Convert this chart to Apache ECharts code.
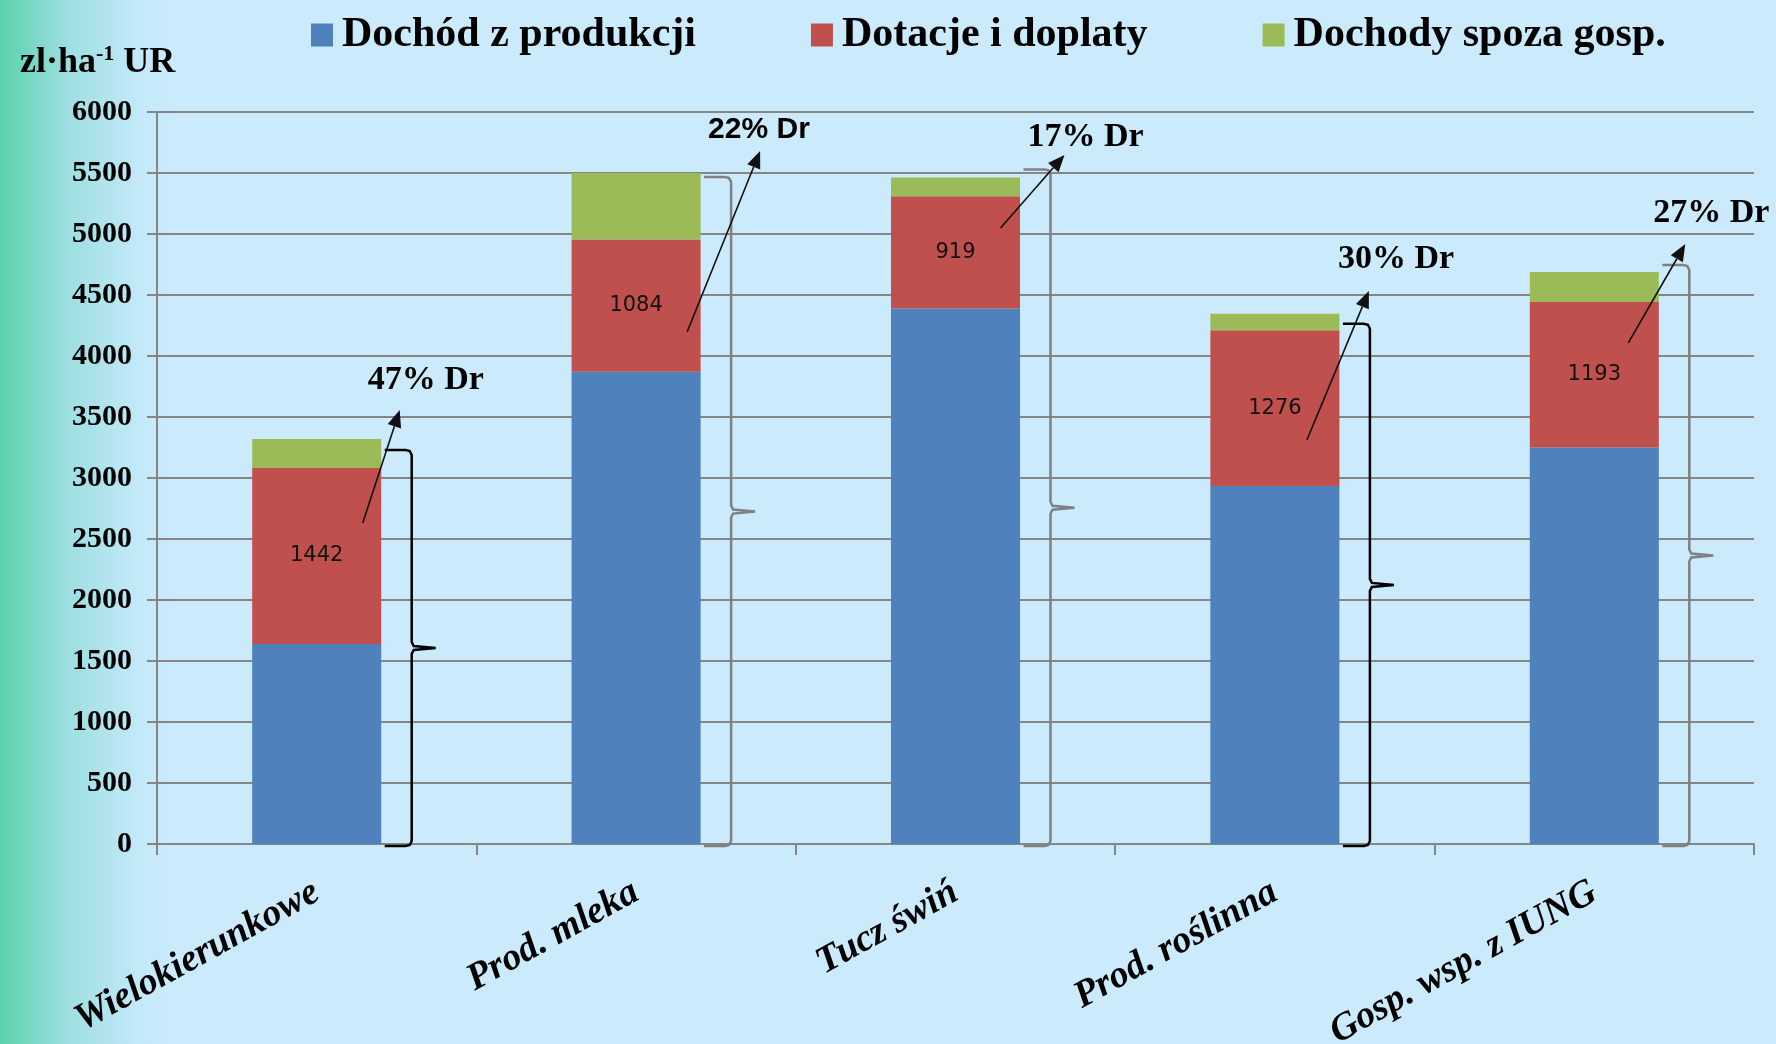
<!DOCTYPE html>
<html>
<head>
<meta charset="utf-8">
<script src="https://cdn.jsdelivr.net/npm/echarts@6/dist/echarts.min.js"></script>
<style>
  html, body { margin: 0; padding: 0; }
  body {
    width: 1776px; height: 1044px;
    background: linear-gradient(to right, #5ad1ad 0px, #9fdfe2 70px, #c3e9f8 140px, #cbebfd 175px, #cbebfd 100%);
  }
  #chart { width: 1776px; height: 1044px; }
</style>
</head>
<body>
<div id="chart"></div>
<script>
// categories and series values (zl/ha UR)
const categories = ['Wielokierunkowe', 'Prod. mleka', 'Tucz świń', 'Prod. roślinna', 'Gosp. wsp. z IUNG'];
const dochodProdukcji = [1640, 3870, 4390, 2935, 3250];
const dotacje = [1442, 1084, 919, 1276, 1193];
const spozaGosp = [238, 545, 155, 135, 245];
const drShare = ['47% Dr', '22% Dr', '17% Dr', '30% Dr', '27% Dr'];
const seriesNames = ['Dochód z produkcji', 'Dotacje i doplaty', 'Dochody spoza gosp.'];

const totals = categories.map((c, i) => dochodProdukcji[i] + dotacje[i] + spozaGosp[i]);

// annotation layout: [px offset from bar centre, value on y axis]
const arrowFrom = [[46, 2631], [51, 4197], [45, 5049], [32, 3311], [34, 4107]];
const arrowTo = [[83, 3557], [124, 5680], [109, 5648], [94, 4533], [91, 4918]];
const drLabelPos = [[51, 3803], [72, 5857], [72, 5791], [63, 4795], [59, 5168]];
const braceTopShift = [11, 4, -8, 10, -7];
const braceColor = ['#000', '#808080', '#808080', '#000', '#808080'];

const serif = '"Liberation Serif", "Times New Roman", serif';
const gray = '#868686';

const chart = echarts.init(document.getElementById('chart'));

chart.setOption({
  backgroundColor: 'transparent',
  animation: false,
  color: ['#4f81bd', '#c0504d', '#9bbb59'],
  title: {
    text: '{m|zl·ha}{sup|-1}{m| UR}',
    left: 15,
    top: 38,
    textStyle: {
      rich: {
        m: { fontFamily: serif, fontWeight: 'bold', fontSize: 36, color: '#000', lineHeight: 38, verticalAlign: 'bottom' },
        sup: { fontFamily: serif, fontWeight: 'bold', fontSize: 22, color: '#000', lineHeight: 22, verticalAlign: 'top' }
      }
    }
  },
  legend: {
    left: 306,
    top: 9,
    icon: 'rect',
    itemWidth: 22,
    itemHeight: 23,
    itemGap: 115,
    data: seriesNames,
    textStyle: {
      fontFamily: serif, fontWeight: 'bold', fontSize: 42, color: '#000',
      padding: [0, 0, 0, 4]
    }
  },
  grid: { left: 157, right: 22, top: 112, bottom: 200, containLabel: false, outerBoundsMode: 'none' },
  xAxis: {
    type: 'category',
    data: categories,
    axisLine: { lineStyle: { color: gray, width: 2 } },
    axisTick: { show: true, length: 11, lineStyle: { color: gray, width: 2 } },
    axisLabel: {
      interval: 0,
      rotate: 29,
      margin: 46,
      fontFamily: serif, fontWeight: 'bold', fontStyle: 'italic', fontSize: 38, color: '#000'
    }
  },
  yAxis: {
    type: 'value',
    min: 0,
    max: 6000,
    interval: 500,
    axisLine: { show: true, lineStyle: { color: gray, width: 2 } },
    axisTick: { show: true, length: 10, lineStyle: { color: gray, width: 2 } },
    splitLine: { lineStyle: { color: gray, width: 2 } },
    axisLabel: {
      margin: 25, fontFamily: serif, fontWeight: 'bold', fontSize: 30, color: '#000',
      formatter: v => String(v)
    }
  },
  series: [
    { name: seriesNames[0], type: 'bar', stack: 'a', barCategoryGap: '59.6%', data: dochodProdukcji },
    {
      name: seriesNames[1], type: 'bar', stack: 'a', data: dotacje,
      label: { show: true, position: 'inside', fontFamily: '"DejaVu Sans", Verdana, sans-serif', fontSize: 21, color: '#111' }
    },
    { name: seriesNames[2], type: 'bar', stack: 'a', data: spozaGosp }
  ]
});

// braces, arrows and "% Dr" notes, positioned through the axes
const toPx = (i, dx, v) => {
  const p = chart.convertToPixel({ xAxisIndex: 0, yAxisIndex: 0 }, [i, v]);
  return [p[0] + dx, p[1]];
};

const graphics = [];
categories.forEach((c, i) => {
  // brace
  const x = toPx(i, 95, 0)[0];
  const top = toPx(i, 0, totals[i])[1] + braceTopShift[i];
  const bot = toPx(i, 0, 0)[1] + 2;
  const mid = (top + bot) / 2;
  const x0 = x - 27;
  graphics.push({
    type: 'polyline',
    silent: true,
    z: 100,
    shape: {
      points: [[x0, top], [x - 6, top], [x - 2, top + 1], [x, top + 5], [x, mid - 6], [x + 2, mid - 2],
        [x + 24, mid], [x + 2, mid + 2], [x, mid + 6], [x, bot - 5], [x - 2, bot - 1], [x - 6, bot], [x0, bot]]
    },
    style: { stroke: braceColor[i], lineWidth: 2.5, fill: null }
  });

  // arrow
  const s = toPx(i, arrowFrom[i][0], arrowFrom[i][1]);
  const t = toPx(i, arrowTo[i][0], arrowTo[i][1]);
  const ang = Math.atan2(t[1] - s[1], t[0] - s[0]);
  const L = 17, W = 7;
  const bx = t[0] - L * Math.cos(ang), by = t[1] - L * Math.sin(ang);
  const px = -Math.sin(ang) * W, py = Math.cos(ang) * W;
  graphics.push({
    type: 'line', silent: true, z: 100,
    shape: { x1: s[0], y1: s[1], x2: bx, y2: by },
    style: { stroke: '#111', lineWidth: 1.6 }
  });
  graphics.push({
    type: 'polygon', silent: true, z: 100,
    shape: { points: [[t[0], t[1]], [bx + px, by + py], [bx - px, by - py]] },
    style: { fill: '#111' }
  });

  // note text
  const lp = toPx(i, drLabelPos[i][0], drLabelPos[i][1]);
  graphics.push({
    type: 'text', silent: true, z: 100,
    style: {
      text: drShare[i],
      x: lp[0], y: lp[1],
      fill: '#000',
      font: i === 1 ? 'bold 30px "Liberation Sans", Arial, sans-serif' : 'bold 34px ' + serif,
      align: 'left',
      verticalAlign: 'middle'
    }
  });
});

chart.setOption({ graphic: graphics });
</script>
</body>
</html>
